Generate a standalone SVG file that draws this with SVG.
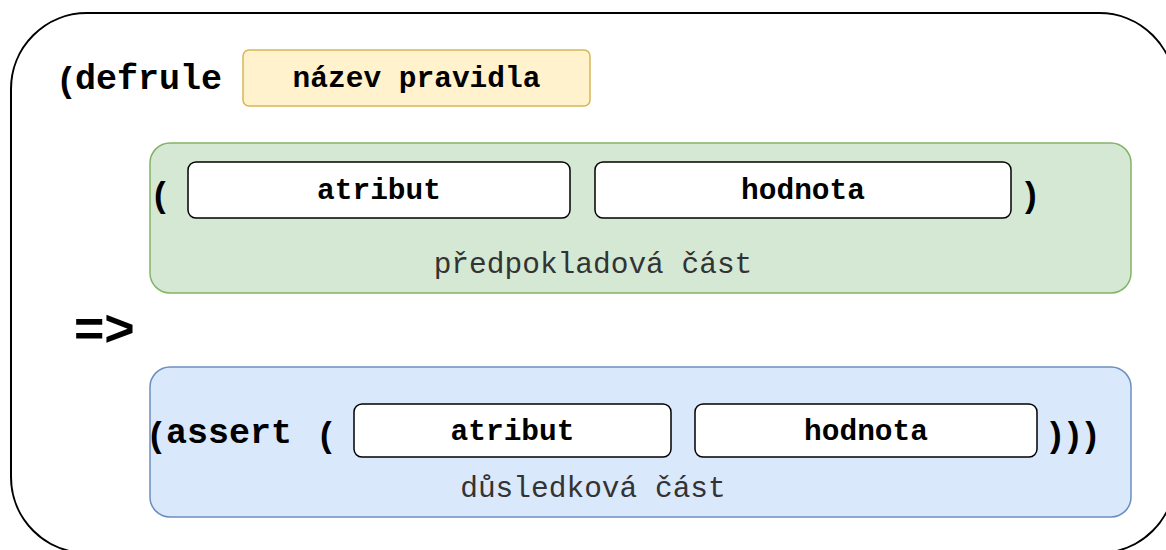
<svg xmlns="http://www.w3.org/2000/svg" width="1166" height="550" viewBox="0 0 1166 550">
<style>
.mono{font-family:"Liberation Mono","Courier New",monospace;}
.sans{font-family:"Liberation Sans",Arial,sans-serif;font-weight:bold;}
.b{font-weight:bold;fill:#000;}
.lbl{font-size:29.5px;}
.cap{font-size:29.5px;fill:#333;}
.big{font-size:35px;}
.cell{fill:#fff;stroke:#000;stroke-width:1.5;}
</style>
<g id="rule">
<rect x="11" y="13" width="1164" height="540" rx="76" ry="76" fill="#fff" stroke="#000" stroke-width="2"/>
<text x="60" y="92" class="sans" font-size="35">(</text>
<text x="75" y="89" class="mono b big">defrule</text>
</g>
<g id="name">
<rect x="243" y="50" width="347" height="56" rx="6" fill="#fff2cc" stroke="#d6b656" stroke-width="1.5"/>
<text x="416.5" y="87" text-anchor="middle" class="mono b lbl">název pravidla</text>
</g>
<g id="arrow-sym">
<text x="74" y="346" class="sans" font-size="52">=&gt;</text>
</g>
<g id="premise">
<rect x="150" y="143" width="981" height="150" rx="20" fill="#d5e8d4" stroke="#82b366" stroke-width="1.5"/>
<text x="154" y="207" class="sans" font-size="35">(</text>
<text x="1025" y="207" class="sans" font-size="35">)</text>
<text x="593" y="273" text-anchor="middle" class="mono cap">předpokladová část</text>
</g>
<g id="premise-attr">
<rect x="188" y="162" width="382" height="56" rx="8" class="cell"/>
<text x="379" y="199" text-anchor="middle" class="mono b lbl">atribut</text>
</g>
<g id="premise-val">
<rect x="595" y="162" width="416" height="56" rx="8" class="cell"/>
<text x="803" y="199" text-anchor="middle" class="mono b lbl">hodnota</text>
</g>
<g id="consequent">
<rect x="150" y="367" width="981" height="150" rx="20" fill="#dae8fc" stroke="#6c8ebf" stroke-width="1.5"/>
<text x="150" y="447" class="sans" font-size="35">(</text>
<text x="166" y="443" class="mono b big">assert</text>
<text x="320" y="447" class="sans" font-size="35">(</text>
<text x="1050" y="447" class="sans" font-size="35" letter-spacing="6">)))</text>
<text x="593" y="497" text-anchor="middle" class="mono cap">důsledková část</text>
</g>
<g id="consequent-attr">
<rect x="354" y="404" width="317" height="53" rx="8" class="cell"/>
<text x="512.5" y="440" text-anchor="middle" class="mono b lbl">atribut</text>
</g>
<g id="consequent-val">
<rect x="695" y="404" width="342" height="53" rx="8" class="cell"/>
<text x="866" y="440" text-anchor="middle" class="mono b lbl">hodnota</text>
</g>
<g id="connectors"></g>
</svg>
